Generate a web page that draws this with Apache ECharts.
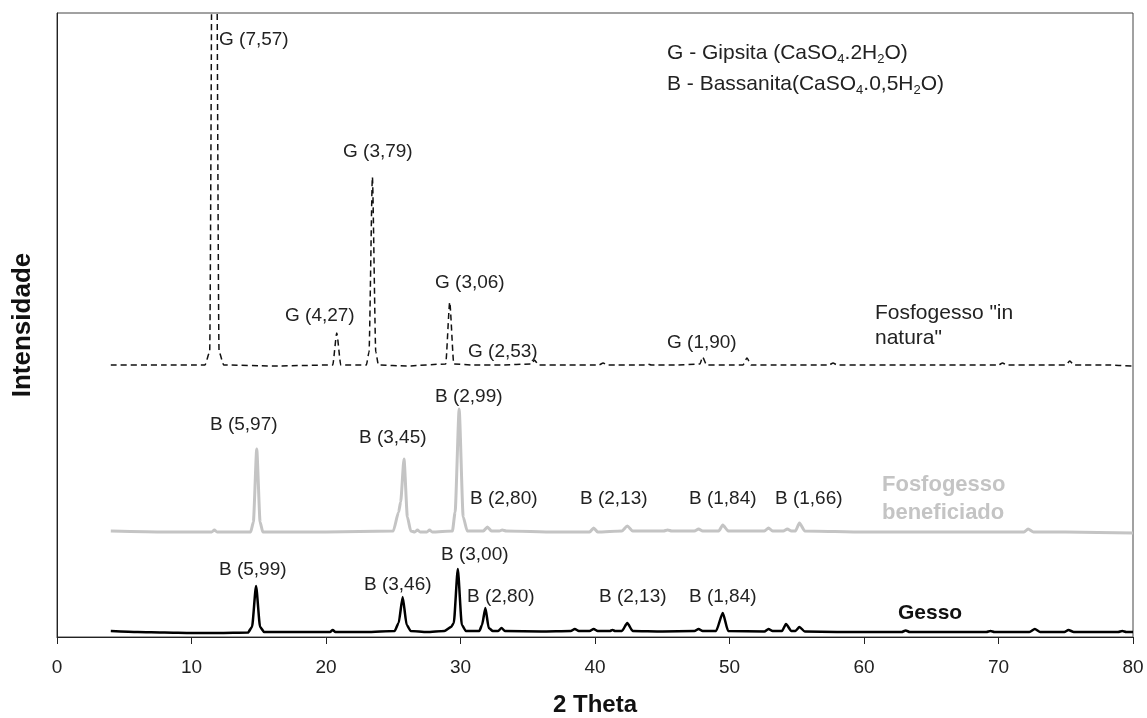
<!DOCTYPE html>
<html>
<head>
<meta charset="utf-8">
<script src="https://cdn.jsdelivr.net/npm/echarts@6/dist/echarts.min.js"></script>
<style>
  html, body { margin: 0; padding: 0; background: #fff; }
  #myChart { width: 1147px; height: 718px; }
</style>
</head>
<body>
<div id="myChart"></div>
<script>
var xTicks = [0, 10, 20, 30, 40, 50, 60, 70, 80];

var gesso = [
  [4.0, 6], [6, 5], [8, 4.5], [10, 4], [12, 4], [14.2, 4.5], [14.5, 10], [14.8, 51], [15.1, 10], [15.4, 5],
  [18, 5], [20.3, 5], [20.5, 7], [20.7, 5], [23, 5], [25.1, 6], [25.4, 14], [25.7, 40], [26.0, 12], [26.3, 6],
  [27.5, 5], [28.8, 6], [29.3, 10], [29.5, 14], [29.8, 68], [30.1, 12], [30.4, 6], [31.4, 6], [31.6, 12],
  [31.85, 29], [32.1, 9], [32.4, 6], [32.8, 6], [33.05, 9], [33.3, 6], [36, 5.5], [38.2, 6], [38.5, 8],
  [38.8, 6], [39.6, 6], [39.9, 8], [40.2, 6], [41.1, 6], [41.3, 7], [41.5, 6], [42.0, 6], [42.4, 14], [42.8, 6],
  [45, 5.5], [47.4, 6], [47.7, 8], [48, 6], [49.0, 6], [49.5, 24], [49.9, 6], [52.6, 5.5], [52.9, 8], [53.2, 6],
  [53.9, 6], [54.2, 13], [54.6, 6], [54.9, 6], [55.2, 10], [55.6, 5.5], [58, 5], [60.5, 5], [62.8, 5], [63.1, 6.5],
  [63.4, 5], [65, 5], [69.1, 5], [69.4, 6], [69.7, 5], [71, 5], [72.3, 5], [72.7, 8], [73.1, 5], [74.9, 5],
  [75.2, 7], [75.6, 5], [77, 5], [78.9, 5], [79.2, 6], [79.5, 5], [80, 5]
];

var beneficiado = [
  [4, 106], [8, 105], [11.5, 105], [11.7, 107], [11.9, 105], [14.4, 105], [14.6, 115], [14.85, 188], [15.1, 115],
  [15.3, 105], [20, 105], [25.0, 106], [25.4, 125], [25.55, 135], [25.8, 178], [26.05, 120], [26.3, 106],
  [26.6, 105], [26.8, 107], [27.0, 105], [27.5, 105], [27.7, 107], [27.9, 105], [29.4, 106], [29.6, 125],
  [29.9, 228], [30.2, 120], [30.5, 106], [31.7, 106], [32.0, 110], [32.3, 106], [32.9, 106], [33.1, 107],
  [33.4, 106], [37, 105], [39.6, 105], [39.9, 109], [40.2, 105], [42.0, 106], [42.4, 111], [42.8, 106],
  [45.1, 106], [45.4, 107], [45.7, 106], [47.4, 106], [47.7, 108], [48.0, 106], [49.2, 106], [49.5, 112],
  [49.9, 106], [52.6, 106], [52.9, 109], [53.2, 106], [54.0, 106], [54.3, 108], [54.6, 106], [54.9, 106],
  [55.2, 114], [55.6, 106], [60, 105], [65, 105], [71.9, 105], [72.2, 108], [72.6, 105], [75, 105], [80, 104]
];

var inNatura = [
  [4, 272], [8, 272], [11.0, 272], [11.35, 285], [11.7, 1200], [12.05, 285], [12.4, 272], [16, 271],
  [20.5, 272], [20.8, 304], [21.1, 272], [23.0, 272], [23.2, 285], [23.45, 460], [23.7, 285], [23.9, 272],
  [26, 271], [28.9, 273], [29.2, 335], [29.5, 273], [31, 272], [33, 272], [35.3, 273], [35.5, 277], [35.8, 272],
  [38, 272], [40.3, 272], [40.6, 274], [40.9, 272], [43.6, 272], [43.9, 273], [44.2, 272], [46, 272],
  [47.8, 273], [48.0, 280], [48.3, 272], [50, 272], [51.0, 272], [51.3, 279], [51.6, 272], [54, 272],
  [57.4, 272], [57.7, 274], [58.0, 272], [60, 272], [65, 272], [70.0, 272], [70.3, 274], [70.6, 272], [73, 272],
  [75.0, 272], [75.3, 276], [75.6, 272], [78, 272], [80, 271]
];

var rotulosG = ['G (7,57)', 'G (3,79)', 'G (4,27)', 'G (3,06)', 'G (2,53)', 'G (1,90)'];
var rotulosBenef = ['B (5,97)', 'B (3,45)', 'B (2,99)', 'B (2,80)', 'B (2,13)', 'B (1,84)', 'B (1,66)'];
var rotulosGesso = ['B (5,99)', 'B (3,46)', 'B (3,00)', 'B (2,80)', 'B (2,13)', 'B (1,84)'];

var myChart = echarts.init(document.getElementById('myChart'));
var fonte = '"Liberation Sans", Arial, sans-serif';

function txt(text, x, y, size, color, weight) {
  return {
    type: 'text', x: x, y: y, z: 10,
    style: {
      text: text, fill: color || '#222', verticalAlign: 'middle',
      font: (weight || 'normal') + ' ' + (size || 19) + 'px ' + fonte
    }
  };
}

var posG = [[219, 40], [343, 152], [285, 316], [435, 283], [468, 352], [667, 343]];
var posBenef = [[210, 425], [359, 438], [435, 397], [470, 499], [580, 499], [689, 499], [775, 499]];
var posGesso = [[219, 570], [364, 585], [441, 555], [467, 597], [599, 597], [689, 597]];

var graficos = [];
rotulosG.forEach(function (t, i) { graficos.push(txt(t, posG[i][0], posG[i][1])); });
rotulosBenef.forEach(function (t, i) { graficos.push(txt(t, posBenef[i][0], posBenef[i][1])); });
rotulosGesso.forEach(function (t, i) { graficos.push(txt(t, posGesso[i][0], posGesso[i][1])); });

graficos.push(txt('Fosfogesso "in', 875, 313, 21));
graficos.push(txt('natura"', 875, 338, 21));
graficos.push(txt('Fosfogesso', 882, 485, 22, '#c4c4c4', 'bold'));
graficos.push(txt('beneficiado', 882, 513, 22, '#c4c4c4', 'bold'));
graficos.push(txt('Gesso', 898, 613, 21, '#111', 'bold'));

// legenda das fases com subscritos
var rich = {
  n: { fontSize: 21, fontFamily: fonte, fill: '#222', lineHeight: 26, verticalAlign: 'middle' },
  s: { fontSize: 13, fontFamily: fonte, fill: '#222', lineHeight: 26, verticalAlign: 'bottom' }
};
function legenda(partes, x, y) {
  return {
    type: 'text', x: x, y: y, z: 10,
    style: { text: partes, rich: rich, verticalAlign: 'middle' }
  };
}
graficos.push(legenda('{n|G - Gipsita (CaSO}{s|4}{n|.2H}{s|2}{n|O)}', 667, 53));
graficos.push(legenda('{n|B - Bassanita(CaSO}{s|4}{n|.0,5H}{s|2}{n|O)}', 667, 84));

myChart.setOption({
  animation: false,
  grid: {
    left: 57, right: 14, top: 13, bottom: 81,
    outerBoundsMode: 'none', containLabel: false,
    show: true, borderColor: '#444', borderWidth: 1
  },
  xAxis: {
    type: 'value', min: 0, max: 80, interval: 10,
    name: '2 Theta', nameLocation: 'middle', nameGap: 56,
    nameTextStyle: { fontFamily: fonte, fontSize: 24, fontWeight: 'bold', color: '#111' },
    axisLine: { show: true, onZero: false, lineStyle: { color: '#222', width: 1 } },
    axisTick: { show: true, inside: false, length: 7, lineStyle: { color: '#222' } },
    axisLabel: {
      margin: 21, fontFamily: fonte, fontSize: 19, color: '#222',
      formatter: function (v) { return xTicks.indexOf(v) >= 0 ? String(v) : ''; }
    },
    splitLine: { show: false }
  },
  yAxis: {
    type: 'value', min: 0, max: 624,
    name: 'Intensidade', nameLocation: 'middle', nameGap: 21, nameRotate: 90,
    nameTextStyle: { fontFamily: fonte, fontSize: 26, fontWeight: 'bold', color: '#111' },
    axisLine: { show: true, lineStyle: { color: '#222', width: 1 } },
    axisTick: { show: false },
    axisLabel: { show: false },
    splitLine: { show: false }
  },
  graphic: graficos,
  series: [
    {
      name: 'Fosfogesso "in natura"', type: 'line', data: inNatura, clip: true,
      showSymbol: false, smooth: 0.2, smoothMonotone: 'x',
      lineStyle: { color: '#111', width: 1.5, type: [6, 4] }
    },
    {
      name: 'Fosfogesso beneficiado', type: 'line', data: beneficiado, clip: true,
      showSymbol: false, smooth: 0.2, smoothMonotone: 'x',
      lineStyle: { color: '#c4c4c4', width: 3 }
    },
    {
      name: 'Gesso', type: 'line', data: gesso, clip: true,
      showSymbol: false, smooth: 0.2, smoothMonotone: 'x',
      lineStyle: { color: '#000', width: 2.5 }
    }
  ]
});
</script>
</body>
</html>
